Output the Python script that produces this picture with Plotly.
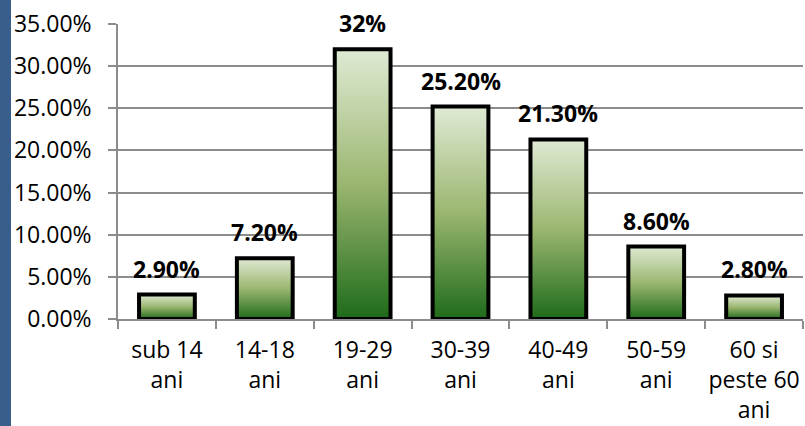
import plotly.graph_objects as go

categories = ["sub 14<br>ani", "14-18<br>ani", "19-29<br>ani", "30-39<br>ani",
              "40-49<br>ani", "50-59<br>ani", "60 si<br>peste 60<br>ani"]
values = [2.9, 7.2, 32.0, 25.2, 21.3, 8.6, 2.8]
labels = ["2.90%", "7.20%", "32%", "25.20%", "21.30%", "8.60%", "2.80%"]
ytick_vals = [0, 5, 10, 15, 20, 25, 30, 35]
ytick_text = ["0.00%", "5.00%", "10.00%", "15.00%", "20.00%", "25.00%", "30.00%", "35.00%"]

FONT = "Open Sans"
FS = 23
BAR_W = 0.57
grad = [[0, "#1E6B1A"], [0.5, "#9BB670"], [1, "#DFEAD4"]]

fig = go.Figure()

# gradient fills (one closed area per bar, on a hidden linear x axis)
for i, v in enumerate(values):
    x0, x1 = i - BAR_W / 2, i + BAR_W / 2
    fig.add_trace(go.Scatter(
        x=[x0, x1, x1, x0, x0], y=[0, 0, v, v, 0],
        mode="lines", line=dict(width=0), fill="toself",
        fillgradient=dict(type="vertical", colorscale=grad),
        xaxis="x", yaxis="y", hoverinfo="skip", showlegend=False))

# outlines (overlay category axis, drawn on top)
fig.add_trace(go.Bar(
    x=categories, y=values, width=BAR_W, xaxis="x2", yaxis="y",
    marker=dict(color="rgba(0,0,0,0)", line=dict(color="black", width=4)),
    showlegend=False, hoverinfo="skip"))

# value labels
annotations = [dict(x=i, y=v, xref="x", yref="y", text=f"<b>{t}</b>",
                    showarrow=False, yanchor="bottom", yshift=8,
                    font=dict(family=FONT, size=FS, color="black"))
               for i, (v, t) in enumerate(zip(values, labels))]

fig.update_layout(
    width=805, height=426,
    margin=dict(l=118, r=2, t=24, b=107, autoexpand=False),
    paper_bgcolor="white", plot_bgcolor="white",
    font=dict(family=FONT, size=FS, color="black"),
    xaxis=dict(range=[-0.5, 6.5], visible=False, automargin=False),
    xaxis2=dict(type="category", overlaying="x", side="bottom", anchor="y",
                range=[-0.5, 6.5], tickson="boundaries", tickangle=0,
                automargin=False, ticklabelstandoff=10,
                ticks="outside", ticklen=8, tickcolor="#8C8C8C", tickwidth=1.5,
                showline=True, linecolor="#8C8C8C", linewidth=1.5,
                showgrid=False, tickfont=dict(family=FONT, size=FS)),
    yaxis=dict(range=[0, 35], tickvals=ytick_vals, ticktext=ytick_text,
               automargin=False, ticklabelstandoff=12,
               ticks="outside", ticklen=8, tickcolor="#8C8C8C", tickwidth=1.5,
               showline=True, linecolor="#8C8C8C", linewidth=1.5,
               showgrid=True, gridcolor="#8C8C8C", gridwidth=1.5,
               zeroline=False, tickfont=dict(family=FONT, size=FS)),
    annotations=annotations,
    shapes=[dict(type="rect", xref="paper", yref="paper",
                 x0=-118 / 685, x1=(11 - 118) / 685, y0=-1, y1=2,
                 fillcolor="#3A5E8C", line=dict(width=0), layer="above")],
)

fig.write_html("out.html", config={"displayModeBar": False},
               post_script="document.body.style.margin='0';document.body.style.overflow='hidden';")
